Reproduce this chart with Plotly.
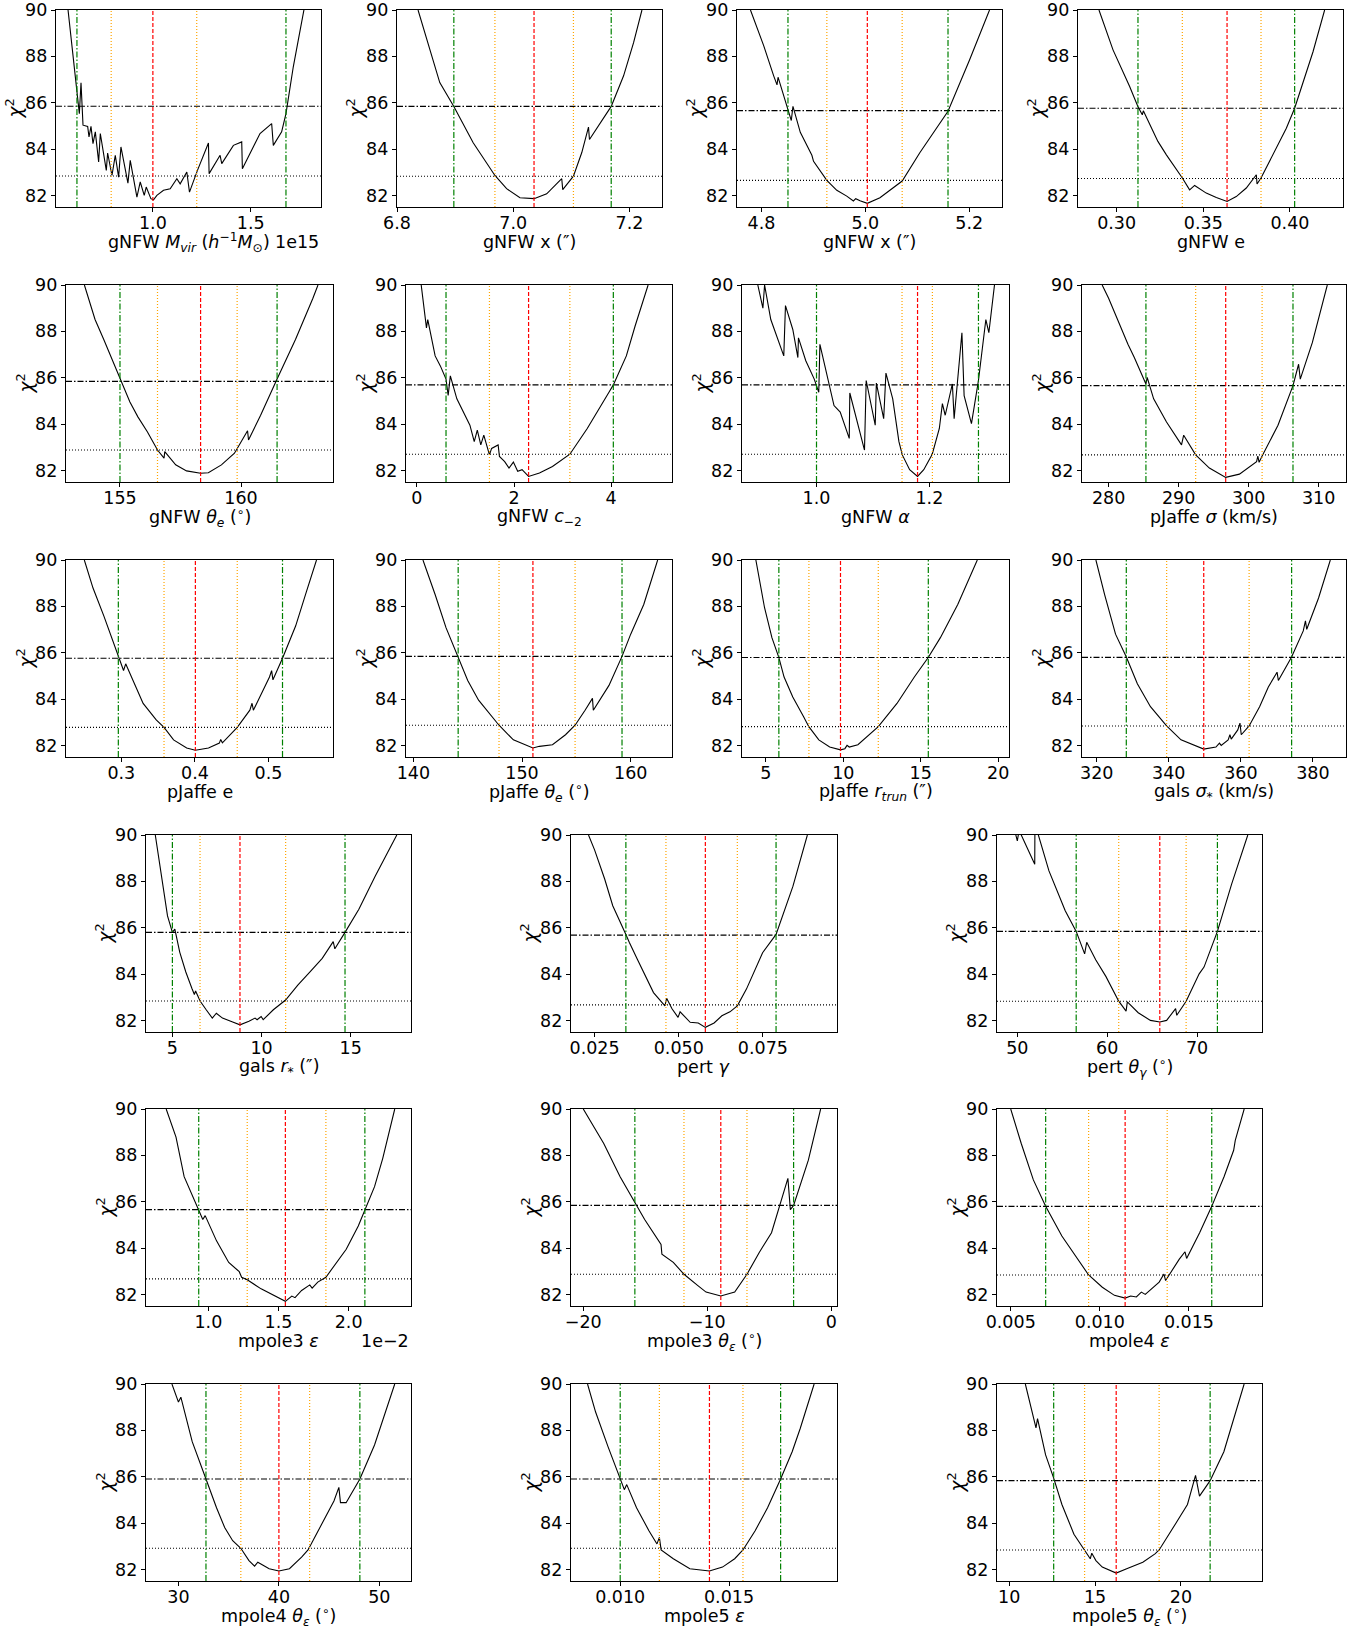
import plotly.graph_objects as go

# ------------------------------------------------------------------ data
# Each panel: chi^2 profile (x, chi2), best fit, 1-sigma and 2-sigma bounds,
# reference levels (min+1 dotted, min+4 dash-dot), axis range and ticks.

p01_x = [0.5665, 0.6124, 0.6243, 0.6328, 0.6430, 0.6668, 0.6736, 0.6838, 0.6940, 0.7059, 0.7229, 0.7314,
         0.7620, 0.7688, 0.7909, 0.8079, 0.8249, 0.8368, 0.8725, 0.8844, 0.9184, 0.9354, 0.9558, 0.9660,
         0.9898, 1.0034, 1.0204, 1.0544, 1.0884, 1.1224, 1.1394, 1.1734, 1.1870, 1.2278, 1.2839, 1.2873,
         1.3434, 1.3519, 1.4114, 1.4539, 1.4573, 1.5474, 1.6069, 1.6154, 1.6579, 1.6800, 1.7174, 1.7429, 1.7718]
p01_chi2 = [90.0, 86.25, 85.53, 86.86, 85.03, 84.98, 84.52, 84.98, 84.23, 84.74, 83.44, 84.67,
            83.08, 83.83, 82.86, 83.73, 82.79, 84.09, 82.53, 83.51, 81.93, 82.58, 82.00, 82.36,
            81.86, 81.81, 82.00, 82.22, 82.29, 82.72, 82.50, 83.01, 82.14, 83.08, 84.26, 82.94,
            83.73, 83.37, 84.16, 84.31, 83.15, 84.67, 85.10, 84.16, 84.74, 85.53, 87.55, 88.70, 90.0]
p01_best, p01_sig1, p01_sig2, p01_levels = 1.0, (0.787, 1.224), (0.612, 1.680), (82.84, 85.85)
p01_range, p01_ticks, p01_ticktext = (0.505, 1.859), [1.0, 1.5], ["1.0", "1.5"]

p02_x = [6.8362, 6.8564, 6.8736, 6.8978, 6.9311, 6.9685, 6.9886, 7.0116, 7.0358, 7.0576, 7.0835, 7.0852,
         7.1036, 7.1180, 7.1295, 7.1312, 7.1496, 7.1686, 7.1899, 7.2071, 7.2215]
p02_chi2 = [90.0, 88.31, 86.87, 85.84, 84.27, 82.86, 82.29, 81.90, 81.86, 82.07, 82.72, 82.25,
            82.83, 83.85, 84.95, 84.41, 85.13, 85.84, 87.16, 88.59, 90.0]
p02_best, p02_sig1, p02_sig2, p02_levels = 7.0358, (6.9685, 7.1036), (6.8978, 7.1686), (82.83, 85.84)
p02_range, p02_ticks, p02_ticktext = (6.80, 7.256), [6.8, 7.0, 7.2], ["6.8", "7.0", "7.2"]

p03_x = [4.7789, 4.8045, 4.8236, 4.8300, 4.8320, 4.8492, 4.8575, 4.8607, 4.8748, 4.8971, 4.9003, 4.9259,
         4.9451, 4.9642, 4.9770, 4.9815, 4.9898, 5.0038, 5.0281, 5.0709, 5.1048, 5.1591, 5.2007, 5.2390]
p03_chi2 = [90.0, 88.45, 87.16, 86.77, 87.10, 85.87, 85.23, 85.84, 84.72, 83.73, 83.47, 82.65,
            82.22, 81.97, 81.76, 81.86, 81.77, 81.66, 81.90, 82.62, 83.84, 85.63, 87.85, 90.0]
p03_best, p03_sig1, p03_sig2, p03_levels = 5.0038, (4.9259, 5.0709), (4.8511, 5.1591), (82.65, 85.66)
p03_range, p03_ticks, p03_ticktext = (4.753, 5.263), [4.8, 5.0, 5.2], ["4.8", "5.0", "5.2"]

p04_x = [0.2898, 0.2979, 0.3075, 0.3123, 0.3148, 0.3154, 0.3238, 0.3287, 0.3379, 0.3421, 0.3450, 0.3517,
         0.3575, 0.3637, 0.3690, 0.3748, 0.3806, 0.3810, 0.3833, 0.3921, 0.3979, 0.4027, 0.4075, 0.4133, 0.4200]
p04_chi2 = [90.0, 88.28, 86.70, 85.83, 85.48, 85.65, 84.33, 83.75, 82.75, 82.24, 82.43, 82.10,
            81.91, 81.74, 81.95, 82.32, 82.89, 82.49, 82.75, 84.04, 84.90, 85.76, 86.84, 88.20, 90.0]
p04_best, p04_sig1, p04_sig2, p04_levels = 0.3637, (0.3379, 0.3833), (0.3123, 0.4027), (82.73, 85.76)
p04_range, p04_ticks, p04_ticktext = (0.2777, 0.4306), [0.30, 0.35, 0.40], ["0.30", "0.35", "0.40"]

p05_x = [153.53, 153.97, 154.33, 155.00, 155.41, 155.74, 156.13, 156.55, 156.82, 156.85, 157.30, 157.75,
         158.33, 158.65, 159.19, 159.73, 160.27, 160.31, 160.81, 161.49, 162.25, 162.97, 163.18]
p05_chi2 = [90.0, 88.51, 87.65, 85.94, 84.95, 84.31, 83.67, 82.88, 82.53, 82.81, 82.24, 81.98,
            81.88, 81.90, 82.24, 82.74, 83.71, 83.31, 84.38, 85.94, 87.65, 89.43, 90.0]
p05_best, p05_sig1, p05_sig2, p05_levels = 158.33, (156.55, 159.84), (155.0, 161.49), (82.88, 85.84)
p05_range, p05_ticks, p05_ticktext = (152.77, 163.80), [155, 160], ["155", "160"]

p06_x = [0.089, 0.152, 0.197, 0.224, 0.376, 0.483, 0.600, 0.644, 0.689, 0.823, 0.958, 1.092, 1.181, 1.244,
         1.316, 1.378, 1.494, 1.539, 1.673, 1.700, 1.808, 1.897, 1.987, 2.076, 2.166, 2.300, 2.524, 2.792,
         3.150, 3.508, 3.955, 4.045, 4.313, 4.492, 4.761]
p06_chi2 = [90.0, 88.93, 88.15, 88.51, 86.94, 86.51, 85.94, 85.23, 86.08, 85.09, 84.52, 83.95, 83.24, 83.74,
            83.10, 83.52, 82.67, 82.95, 83.10, 82.60, 82.38, 82.10, 82.36, 81.96, 82.03, 81.74, 81.89, 82.17,
            82.70, 83.81, 85.37, 85.69, 86.94, 88.22, 90.0]
p06_best, p06_sig1, p06_sig2, p06_levels = 2.30, (1.494, 3.15), (0.60, 4.045), (82.70, 85.69)
p06_range, p06_ticks, p06_ticktext = (-0.224, 5.253), [0, 2, 4], ["0", "2", "4"]

p07_x = [0.896, 0.905, 0.908, 0.919, 0.942, 0.945, 0.958, 0.967, 0.968, 0.981, 0.996, 1.004, 1.006, 1.019,
         1.031, 1.042, 1.058, 1.059, 1.085, 1.088, 1.104, 1.106, 1.119, 1.123, 1.135, 1.146, 1.152, 1.165,
         1.179, 1.190, 1.205, 1.2176, 1.223, 1.228, 1.2407, 1.2438, 1.2576, 1.2615, 1.2745, 1.2868, 1.300,
         1.3053, 1.3153]
p07_chi2 = [90.0, 89.0, 90.0, 88.51, 86.94, 89.11, 88.08, 86.87, 87.72, 86.73, 85.94, 85.37, 87.44, 86.08,
            84.80, 84.52, 83.38, 85.34, 82.88, 85.88, 83.95, 85.77, 84.23, 86.20, 85.09, 83.24, 82.67, 82.03,
            81.74, 82.03, 82.70, 83.81, 84.88, 84.38, 85.73, 84.23, 87.94, 85.23, 84.02, 85.87, 88.51,
            87.94, 90.0]
p07_best, p07_sig1, p07_sig2, p07_levels = 1.179, (1.1515, 1.2053), (1.0, 1.2869), (82.70, 85.69)
p07_range, p07_ticks, p07_ticktext = (0.868, 1.341), [1.0, 1.2], ["1.0", "1.2"]

p08_x = [279.08, 280.0, 282.76, 283.67, 285.33, 285.51, 286.43, 288.27, 290.41, 290.72, 292.43, 294.39,
         296.72, 298.68, 301.13, 301.31, 301.49, 301.92, 304.19, 306.33, 307.13, 307.37, 309.09, 311.23]
p08_chi2 = [90.0, 89.43, 87.44, 86.87, 85.73, 86.01, 85.09, 84.09, 83.10, 83.52, 82.67, 82.10,
            81.70, 81.84, 82.38, 82.62, 82.35, 82.62, 83.95, 85.66, 86.58, 85.94, 87.51, 90.0]
p08_best, p08_sig1, p08_sig2, p08_levels = 296.72, (292.43, 301.92), (285.33, 306.33), (82.67, 85.66)
p08_range, p08_ticks, p08_ticktext = (276.2, 313.9), [280, 290, 300, 310], ["280", "290", "300", "310"]

p09_x = [0.2497, 0.2615, 0.2763, 0.2959, 0.3030, 0.3059, 0.3178, 0.3296, 0.3474, 0.3580, 0.3710, 0.3888,
         0.4006, 0.4184, 0.4332, 0.4350, 0.4373, 0.4575, 0.4746, 0.4776, 0.4794, 0.5013, 0.5042, 0.5060,
         0.5190, 0.5368, 0.5516, 0.5652]
p09_chi2 = [90.0, 88.79, 87.58, 85.80, 85.23, 85.52, 84.66, 83.81, 83.10, 82.78, 82.24, 81.89,
            81.79, 81.89, 82.10, 82.26, 82.11, 82.78, 83.52, 83.82, 83.52, 84.95, 85.23, 84.83,
            85.76, 87.15, 88.65, 90.0]
p09_best, p09_sig1, p09_sig2, p09_levels = 0.4006, (0.358, 0.4575), (0.2959, 0.519), (82.78, 85.76)
p09_range, p09_ticks, p09_ticktext = (0.2248, 0.5876), [0.3, 0.4, 0.5], ["0.3", "0.4", "0.5"]

p10_x = [140.88, 142.0, 143.0, 144.12, 145.0, 146.0, 147.88, 149.2, 151.0, 151.6, 152.8, 154.0, 154.88,
         155.8, 156.48, 156.56, 158.0, 159.2, 160.0, 161.2, 162.48]
p10_chi2 = [90.0, 88.51, 87.08, 85.84, 84.80, 83.95, 82.87, 82.24, 81.89, 81.96, 82.03, 82.46, 82.87,
            83.52, 84.03, 83.52, 84.59, 85.84, 86.80, 88.08, 90.0]
p10_best, p10_sig1, p10_sig2, p10_levels = 151.0, (147.88, 154.88), (144.12, 159.2), (82.87, 85.84)
p10_range, p10_ticks, p10_ticktext = (139.32, 163.8), [140, 150, 160], ["140", "150", "160"]

p11_x = [4.355, 4.916, 5.392, 5.841, 6.177, 6.738, 7.439, 7.775, 8.420, 9.121, 9.822, 10.102, 10.243,
         10.383, 10.944, 12.261, 13.467, 14.588, 15.485, 16.270, 17.391, 18.653]
p11_chi2 = [90.0, 87.94, 86.65, 85.79, 84.95, 84.09, 83.24, 82.81, 82.24, 81.93, 81.81, 81.86, 82.00,
            81.93, 82.03, 82.81, 83.81, 84.95, 85.79, 86.65, 88.08, 90.0]
p11_best, p11_sig1, p11_sig2, p11_levels = 9.82, (7.78, 12.26), (5.84, 15.49), (82.81, 85.79)
p11_range, p11_ticks, p11_ticktext = (3.46, 20.70), [5, 10, 15, 20], ["5", "10", "15", "20"]

p12_x = [319.76, 322.18, 325.21, 328.24, 331.27, 334.91, 339.39, 343.39, 349.70, 353.09, 354.06, 354.55,
         356.48, 356.97, 357.33, 359.15, 359.76, 360.12, 362.30, 365.21, 367.64, 370.06, 370.42, 374.06,
         377.33, 377.94, 378.30, 381.58, 384.85]
p12_chi2 = [90.0, 88.51, 86.80, 85.80, 84.66, 83.67, 82.84, 82.24, 81.84, 81.93, 82.10, 82.00,
            82.24, 82.46, 82.27, 82.67, 82.96, 82.46, 82.84, 83.67, 84.52, 85.16, 84.80, 85.80,
            86.94, 87.37, 87.01, 88.36, 90.0]
p12_best, p12_sig1, p12_sig2, p12_levels = 349.7, (339.4, 362.3), (328.2, 374.1), (82.84, 85.80)
p12_range, p12_ticks, p12_ticktext = (315.9, 389.2), [320, 340, 360, 380], ["320", "340", "360", "380"]

p13_x = [4.041, 4.384, 4.726, 5.000, 5.137, 5.411, 5.753, 6.096, 6.233, 6.301, 6.553, 6.895, 7.237, 7.466,
         7.808, 8.379, 8.790, 9.292, 9.635, 9.749, 9.977, 10.091, 10.662, 11.347, 12.032, 12.717, 13.402,
         14.018, 14.110, 14.680, 15.457, 16.370, 17.584]
p13_chi2 = [90.0, 88.22, 86.51, 85.80, 85.94, 84.95, 84.09, 83.38, 83.12, 83.27, 82.84, 82.46, 82.10, 82.31,
            82.10, 81.93, 81.81, 81.96, 82.10, 82.03, 82.17, 82.03, 82.46, 82.88, 83.52, 84.09, 84.68,
            85.40, 85.09, 85.80, 86.80, 88.22, 90.0]
p13_best, p13_sig1, p13_sig2, p13_levels = 8.79, (6.55, 11.35), (5.0, 14.68), (82.84, 85.80)
p13_range, p13_ticks, p13_ticktext = (3.52, 18.38), [5, 10, 15], ["5", "10", "15"]

p14_x = [0.0232, 0.0250, 0.0280, 0.0304, 0.0343, 0.0353, 0.0377, 0.0407, 0.0425, 0.0459, 0.0464, 0.0480,
         0.0498, 0.0504, 0.0534, 0.0558, 0.0579, 0.0605, 0.0628, 0.0652, 0.0674, 0.0701, 0.0749, 0.0789,
         0.0821, 0.0839, 0.0882]
p14_chi2 = [90.0, 89.36, 88.10, 86.95, 85.71, 85.37, 84.64, 83.72, 83.20, 82.63, 82.96, 82.50,
            82.13, 82.37, 81.92, 81.89, 81.70, 81.89, 82.20, 82.37, 82.63, 83.35, 84.92, 85.71,
            87.07, 87.78, 90.0]
p14_best, p14_sig1, p14_sig2, p14_levels = 0.0579, (0.0462, 0.0674), (0.0343, 0.0789), (82.67, 85.68)
p14_range, p14_ticks, p14_ticktext = (0.0180, 0.0970), [0.025, 0.050, 0.075], ["0.025", "0.050", "0.075"]

p15_x = [49.50, 50.00, 50.20, 51.94, 51.96, 53.52, 55.33, 56.55, 57.49, 57.72, 58.72, 59.85, 61.28, 62.10,
         62.24, 63.45, 64.81, 65.85, 66.61, 67.61, 67.74, 68.78, 70.23, 70.77, 72.26, 73.84, 75.64]
p15_chi2 = [90.5, 89.75, 90.2, 88.74, 90.5, 88.45, 86.73, 85.84, 84.87, 85.37, 84.62, 83.90, 82.83, 82.40,
            82.80, 82.33, 82.00, 81.93, 82.00, 82.51, 82.22, 82.83, 84.01, 84.30, 85.84, 87.88, 90.0]
p15_best, p15_sig1, p15_sig2, p15_levels = 65.85, (61.28, 68.78), (56.55, 72.26), (82.83, 85.84)
p15_range, p15_ticks, p15_ticktext = (47.74, 77.22), [50, 60, 70], ["50", "60", "70"]

p16_x = [0.699, 0.769, 0.827, 0.931, 0.960, 0.977, 1.058, 1.145, 1.220, 1.237, 1.277, 1.376, 1.462, 1.549,
         1.595, 1.618, 1.665, 1.723, 1.740, 1.780, 1.838, 1.896, 1.983, 2.069, 2.116, 2.185, 2.243, 2.329]
p16_chi2 = [90.0, 88.79, 87.08, 85.66, 85.23, 85.40, 84.31, 83.38, 82.98, 82.74, 82.63, 82.24, 81.96, 81.70,
            81.93, 81.86, 82.17, 82.41, 82.27, 82.53, 82.74, 83.24, 83.95, 84.95, 85.66, 86.65, 87.86, 90.0]
p16_best, p16_sig1, p16_sig2, p16_levels = 1.549, (1.277, 1.838), (0.931, 2.116), (82.67, 85.66)
p16_range, p16_ticks, p16_ticktext = (0.555, 2.445), [1.0, 1.5, 2.0], ["1.0", "1.5", "2.0"]

p17_x = [-20.0, -18.35, -17.03, -15.84, -15.05, -13.73, -13.66, -12.74, -11.88, -10.76, -10.10, -8.91,
         -7.79, -6.80, -5.81, -4.82, -3.50, -3.30, -3.04, -1.85, -0.86]
p17_chi2 = [90.0, 88.51, 87.08, 85.94, 85.23, 84.16, 83.74, 83.38, 82.87, 82.38, 82.10, 81.93,
            82.10, 82.87, 83.81, 84.66, 87.01, 85.66, 85.84, 87.79, 90.0]
p17_best, p17_sig1, p17_sig2, p17_levels = -8.91, (-11.88, -6.80), (-15.84, -3.04), (82.87, 85.84)
p17_range, p17_ticks, p17_ticktext = (-20.99, 0.46), [-20, -10, 0], ["\u221220", "\u221210", "0"]

p18_x = [0.00500, 0.00559, 0.00627, 0.00696, 0.00787, 0.00878, 0.00937, 0.01014, 0.01082, 0.01142,
         0.01173, 0.01205, 0.01233, 0.01255, 0.01333, 0.01360, 0.01369, 0.01446, 0.01478, 0.01487,
         0.01560, 0.01628, 0.01697, 0.01751, 0.01760, 0.01810]
p18_chi2 = [90.0, 88.51, 86.94, 85.80, 84.52, 83.52, 82.84, 82.31, 81.96, 81.84,
            81.93, 81.89, 82.10, 82.00, 82.53, 82.88, 82.60, 83.52, 83.84, 83.55,
            84.66, 85.80, 87.08, 88.22, 88.65, 90.0]
p18_best, p18_sig1, p18_sig2, p18_levels = 0.01142, (0.00937, 0.01378), (0.00696, 0.01628), (82.84, 85.80)
p18_range, p18_ticks, p18_ticktext = (0.00423, 0.0191), [0.005, 0.010, 0.015], ["0.005", "0.010", "0.015"]

p19_x = [29.35, 30.00, 30.24, 31.37, 32.74, 33.79, 34.60, 35.40, 36.21, 37.02, 37.58, 37.90, 39.03, 40.00,
         41.05, 42.26, 42.90, 44.27, 45.48, 45.97, 46.13, 46.69, 48.06, 49.52, 51.53]
p19_chi2 = [90.0, 89.22, 89.43, 87.51, 85.90, 84.66, 83.81, 83.24, 82.91, 82.38, 82.14, 82.31, 82.03, 81.93,
            82.03, 82.53, 82.84, 83.95, 84.95, 85.54, 84.88, 84.88, 85.90, 87.37, 90.0]
p19_best, p19_sig1, p19_sig2, p19_levels = 40.0, (36.21, 43.06), (32.74, 48.06), (82.91, 85.90)
p19_range, p19_ticks, p19_ticktext = (26.77, 53.15), [30, 40, 50], ["30", "40", "50"]

p20_x = [0.00850, 0.00887, 0.00944, 0.01000, 0.01019, 0.01030, 0.01075, 0.01132, 0.01169, 0.01180,
         0.01188, 0.01244, 0.01320, 0.01410, 0.01470, 0.01526, 0.01564, 0.01620, 0.01677, 0.01737,
         0.01790, 0.01827, 0.01891]
p20_chi2 = [90.0, 88.79, 87.30, 85.90, 85.44, 85.66, 84.66, 83.67, 83.10, 83.38,
            82.84, 82.46, 82.03, 81.93, 82.10, 82.46, 82.84, 83.67, 84.66, 85.90,
            87.08, 88.08, 90.0]
p20_best, p20_sig1, p20_sig2, p20_levels = 0.0141, (0.0118, 0.01564), (0.0100, 0.01737), (82.91, 85.90)
p20_range, p20_ticks, p20_ticktext = (0.00774, 0.01996), [0.010, 0.015], ["0.010", "0.015"]

p21_x = [10.94, 11.42, 11.56, 11.65, 12.12, 12.59, 13.07, 13.77, 14.39, 14.72, 14.81, 15.05, 15.42, 16.23,
         16.84, 17.78, 18.49, 18.73, 19.67, 20.38, 20.85, 21.08, 21.70, 22.50, 23.68]
p21_chi2 = [90.0, 88.51, 88.11, 88.51, 86.94, 85.94, 84.80, 83.52, 82.84, 82.46, 82.70, 82.38, 82.10, 81.84,
            82.03, 82.31, 82.67, 82.84, 83.95, 84.80, 86.06, 85.16, 85.83, 87.08, 90.0]
p21_best, p21_sig1, p21_sig2, p21_levels = 16.23, (14.39, 18.73), (12.59, 21.70), (82.84, 85.83)
p21_range, p21_ticks, p21_ticktext = (9.29, 24.72), [10, 15, 20], ["10", "15", "20"]

labels = [
    "gNFW <i>M<sub>vir</sub></i> (<i>h</i><sup>\u22121</sup><i>M</i><sub>\u2299</sub>)",
    "gNFW x (\u2033)",
    "gNFW x (\u2033)",
    "gNFW e",
    "gNFW <i>\u03b8<sub>e</sub></i> (<sup>\u2218</sup>)",
    "gNFW <i>c</i><sub>\u22122</sub>",
    "gNFW <i>\u03b1</i>",
    "pJaffe <i>\u03c3</i> (km/s)",
    "pJaffe e",
    "pJaffe <i>\u03b8<sub>e</sub></i> (<sup>\u2218</sup>)",
    "pJaffe <i>r<sub>trun</sub></i> (\u2033)",
    "gals <i>\u03c3</i><sub>*</sub> (km/s)",
    "gals <i>r</i><sub>*</sub> (\u2033)",
    "pert <i>\u03b3</i>",
    "pert <i>\u03b8<sub>\u03b3</sub></i> (<sup>\u2218</sup>)",
    "mpole3 <i>\u03b5</i>",
    "mpole3 <i>\u03b8<sub>\u03b5</sub></i> (<sup>\u2218</sup>)",
    "mpole4 <i>\u03b5</i>",
    "mpole4 <i>\u03b8<sub>\u03b5</sub></i> (<sup>\u2218</sup>)",
    "mpole5 <i>\u03b5</i>",
    "mpole5 <i>\u03b8<sub>\u03b5</sub></i> (<sup>\u2218</sup>)",
]
offset_texts = {1: "1e15", 16: "1e\u22122"}

Y_RANGE = (81.5, 90.0)
Y_TICKS = [82, 84, 86, 88, 90]

panels = []
for i in range(1, 22):
    g = globals()
    k = f"p{i:02d}"
    panels.append(dict(
        x=g[k + "_x"], y=g[k + "_chi2"], best=g[k + "_best"], sig1=g[k + "_sig1"], sig2=g[k + "_sig2"],
        levels=g[k + "_levels"], xr=g[k + "_range"], ticks=g[k + "_ticks"], ticktext=g[k + "_ticktext"],
        label=labels[i - 1]))

# ------------------------------------------------------------------ layout (pixels)
W, H = 1359, 1632
ROW_TOPS = [10, 285, 560, 835, 1109, 1384]
PANEL_H = 197
ROW_COLS = [
    [(56, 321), (397, 662), (737, 1002), (1078, 1343)],
    [(66, 333), (406, 672), (742, 1009), (1082, 1346)],
    [(66, 333), (406, 672), (742, 1009), (1082, 1346)],
    [(146, 411), (571, 837), (997, 1262)],
    [(146, 411), (571, 837), (997, 1262)],
    [(146, 411), (571, 837), (997, 1262)],
]
boxes = []
for r, cols in enumerate(ROW_COLS):
    for (l, rr) in cols:
        boxes.append((l, rr, ROW_TOPS[r], ROW_TOPS[r] + PANEL_H))

FONT = "DejaVu Sans, Arial, sans-serif"
FS = 17.5
C_BEST, C_S1, C_S2 = "#ff0000", "#ffa500", "#008000"

fig = go.Figure()
layout = dict(width=W, height=H, margin=dict(l=0, r=0, t=0, b=0, autoexpand=False), paper_bgcolor="white",
              plot_bgcolor="white", showlegend=False, font=dict(family=FONT, size=FS, color="black"))
shapes, annotations = [], []

for n, (p, (l, r, t, b)) in enumerate(zip(panels, boxes), start=1):
    sfx = "" if n == 1 else str(n)
    xa, ya = "x" + sfx, "y" + sfx
    fig.add_trace(go.Scatter(x=p["x"], y=p["y"], mode="lines", xaxis=xa, yaxis=ya,
                             line=dict(color="black", width=1.1), hoverinfo="skip"))
    common = dict(showline=True, mirror=True, linecolor="black", linewidth=1.2, ticks="outside",
                  ticklen=4, tickwidth=1.1, tickcolor="black", showgrid=False, zeroline=False,
                  automargin=False, ticklabeloverflow="allow",
                  tickfont=dict(family=FONT, size=FS, color="black"))
    layout["xaxis" + sfx] = dict(common, domain=[l / W, r / W], anchor=ya, range=list(p["xr"]),
                                  tickvals=p["ticks"], ticktext=p["ticktext"], ticklabelstandoff=-4)
    layout["yaxis" + sfx] = dict(common, domain=[1 - b / H, 1 - t / H], anchor=xa, range=list(Y_RANGE),
                                  tickvals=Y_TICKS, ticktext=[str(v) for v in Y_TICKS])
    # horizontal reference levels
    for lvl, dash in zip(p["levels"], ["1px,2px", "6px,2px,1.5px,2px"]):
        shapes.append(dict(type="line", xref=xa + " domain", yref=ya, x0=0, x1=1, y0=lvl, y1=lvl,
                           line=dict(color="black", width=1.1, dash=dash)))
    # vertical markers
    for v in p["sig2"]:
        shapes.append(dict(type="line", xref=xa, yref=ya + " domain", x0=v, x1=v, y0=0, y1=1,
                           line=dict(color=C_S2, width=1.2, dash="6px,2px,1.5px,2px")))
    for v in p["sig1"]:
        shapes.append(dict(type="line", xref=xa, yref=ya + " domain", x0=v, x1=v, y0=0, y1=1,
                           line=dict(color=C_S1, width=1.2, dash="1px,2px")))
    shapes.append(dict(type="line", xref=xa, yref=ya + " domain", x0=p["best"], x1=p["best"], y0=0, y1=1,
                       line=dict(color=C_BEST, width=1.2, dash="4px,2px")))
    # axis titles
    annotations.append(dict(text=p["label"], xref=xa + " domain", yref=ya + " domain", x=0.5, y=0,
                            xanchor="center", yanchor="middle", yshift=-35, showarrow=False,
                            font=dict(family=FONT, size=FS, color="black")))
    annotations.append(dict(text="<i>\u03c7</i><sup>2</sup>", xref=xa + " domain", yref=ya + " domain",
                            x=0, y=0.5, xanchor="center", yanchor="middle", xshift=-41, textangle=-90,
                            showarrow=False, font=dict(family=FONT, size=18.5, color="black")))
    if n in offset_texts:
        annotations.append(dict(text=offset_texts[n], xref=xa + " domain", yref=ya + " domain", x=1, y=0,
                                xanchor="right", yanchor="middle", yshift=-35, showarrow=False,
                                font=dict(family=FONT, size=FS, color="black")))

layout["shapes"] = shapes
layout["annotations"] = annotations
fig.update_layout(**layout)
fig.write_html("out.html", config={"displayModeBar": False},
               post_script="document.body.style.margin='0';document.body.style.overflow='hidden';")
